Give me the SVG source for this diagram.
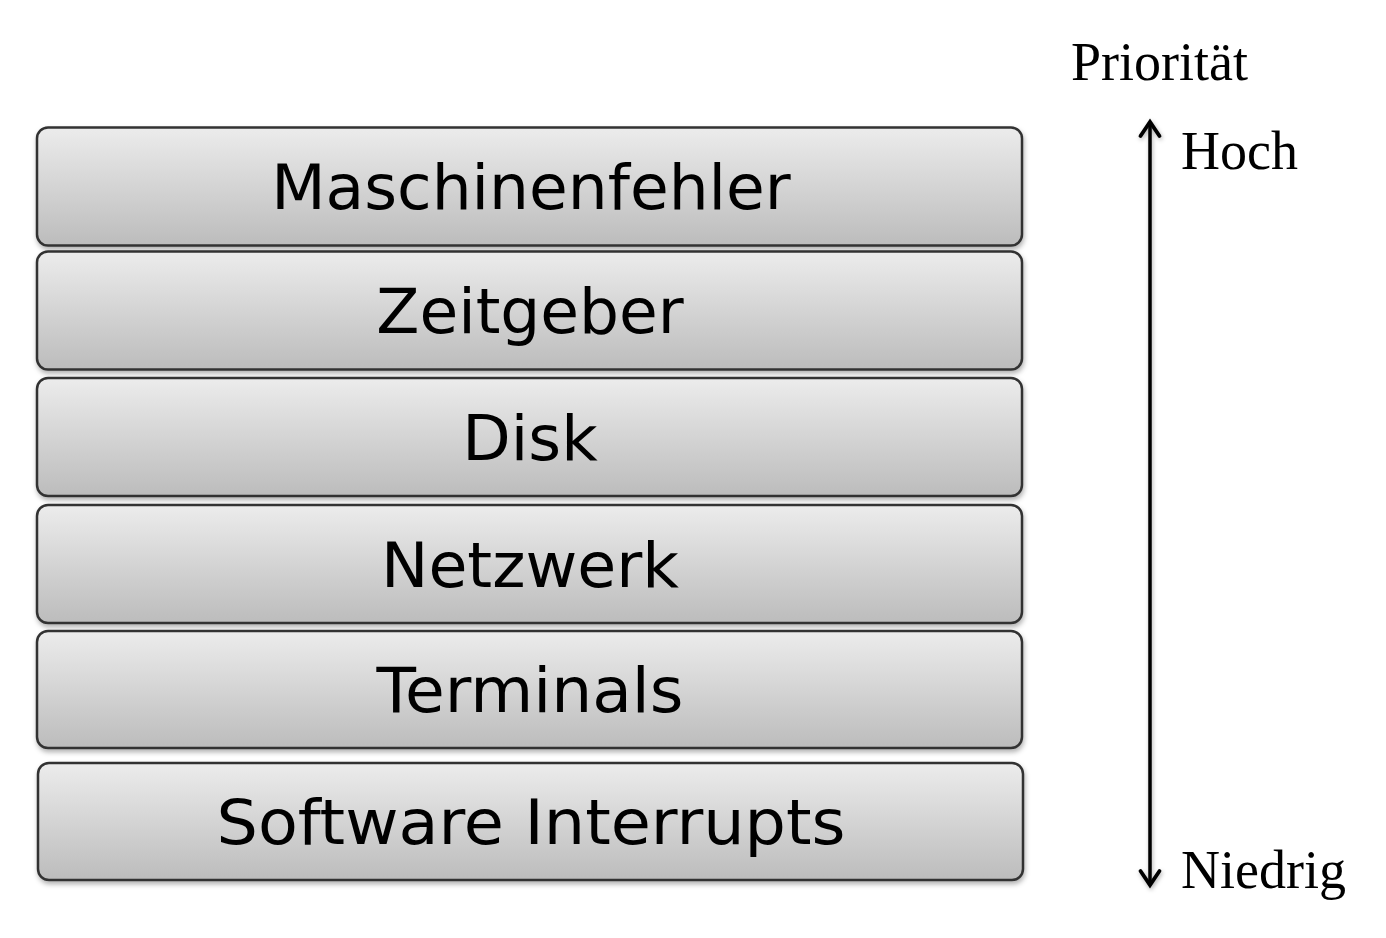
<svg xmlns="http://www.w3.org/2000/svg" width="1386" height="938" viewBox="0 0 1386 938">
  <defs>
    <linearGradient id="g" x1="0" y1="0" x2="0" y2="1">
      <stop offset="0" stop-color="#ececec"/>
      <stop offset="1" stop-color="#bcbcbc"/>
    </linearGradient>
    <filter id="sh" x="-5%" y="-10%" width="110%" height="130%">
      <feDropShadow dx="1" dy="3" stdDeviation="2.5" flood-color="#000" flood-opacity="0.3"/>
    </filter>
    <filter id="ash" filterUnits="userSpaceOnUse" x="1120" y="100" width="60" height="810">
      <feDropShadow dx="1" dy="2" stdDeviation="2" flood-color="#000" flood-opacity="0.3"/>
    </filter>
    <marker id="arr" viewBox="0 0 24 24" refX="20" refY="12" markerWidth="24" markerHeight="24" markerUnits="userSpaceOnUse" orient="auto-start-reverse" overflow="visible">
      <path d="M6,2.5 L20,12 L6,21.5" fill="none" stroke="#000" stroke-width="3.8" stroke-linecap="round" stroke-linejoin="miter"/>
    </marker>
  </defs>
  <style>
    .box { fill: url(#g); stroke: #333; stroke-width: 2.5; filter: url(#sh); }
    .lbl { font-family: "DejaVu Sans", Verdana, sans-serif; font-size: 63px; fill: #000; text-anchor: middle; }
    .ser { font-family: "Liberation Serif", "Times New Roman", serif; font-size: 54px; fill: #000; }
  </style>
  <rect width="1386" height="938" fill="#fff"/>
  <g id="n1"><rect class="box" x="37" y="127.5" width="985" height="118" rx="11"/><text class="lbl" x="531" y="209">Maschinenfehler</text></g>
  <g id="n2"><rect class="box" x="37" y="251.5" width="985" height="118" rx="11"/><text class="lbl" x="530" y="333">Zeitgeber</text></g>
  <g id="n3"><rect class="box" x="37" y="378" width="985" height="118" rx="11"/><text class="lbl" x="530" y="460">Disk</text></g>
  <g id="n4"><rect class="box" x="37" y="505" width="985" height="118" rx="11"/><text class="lbl" x="530" y="587" textLength="298" lengthAdjust="spacingAndGlyphs">Netzwerk</text></g>
  <g id="n5"><rect class="box" x="37" y="631" width="985" height="117" rx="11"/><text class="lbl" x="530" y="712" textLength="307" lengthAdjust="spacingAndGlyphs">Terminals</text></g>
  <g id="n6"><rect class="box" x="38" y="763" width="985" height="117" rx="11"/><text class="lbl" x="531" y="844" textLength="629" lengthAdjust="spacingAndGlyphs">Software Interrupts</text></g>
  <g id="labels">
    <text class="ser" x="1071" y="80">Priorität</text>
    <text class="ser" x="1181" y="169">Hoch</text>
    <text class="ser" x="1181" y="888">Niedrig</text>
  </g>
  <g id="connectors">
    <path d="M1150,122 L1150,885" fill="none" stroke="#000" stroke-width="3.5" marker-start="url(#arr)" marker-end="url(#arr)" filter="url(#ash)"/>
  </g>
</svg>
